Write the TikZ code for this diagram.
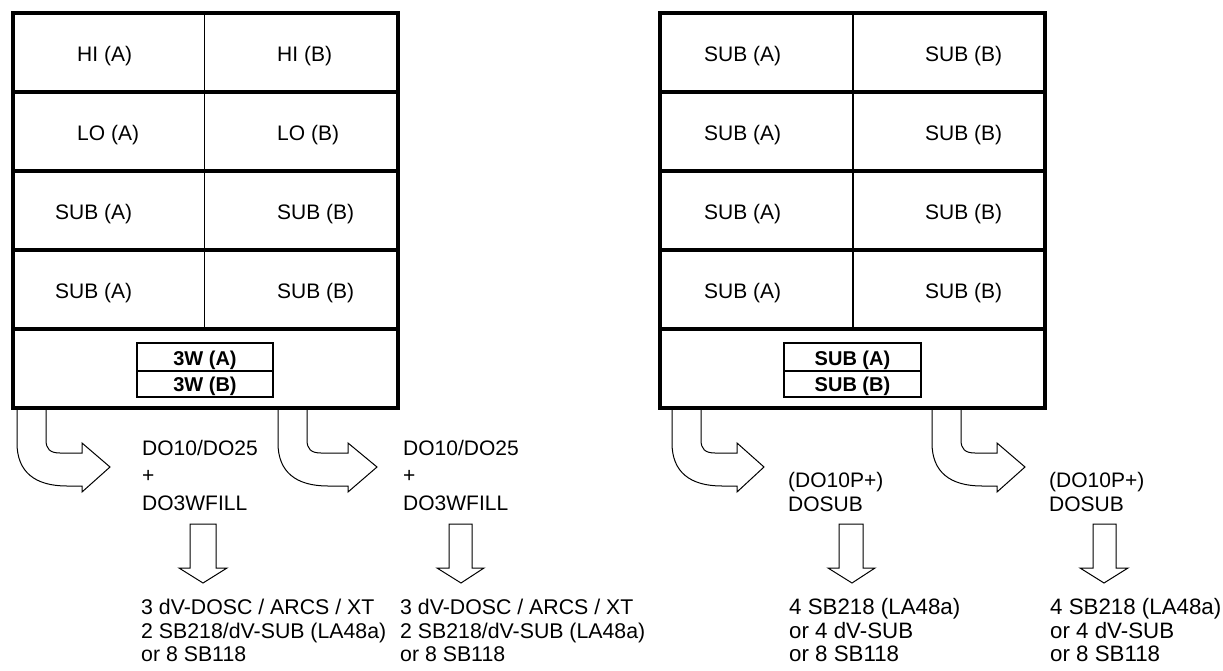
\documentclass[tikz,border=0pt]{standalone}
\usepackage{fontspec}
\setmainfont{Liberation Sans}
\tikzset{
  lbl/.style={inner sep=0pt, anchor=base west, font=\fontsize{21}{25}\selectfont},
  lblL/.style={lbl, font=\fontsize{21.3}{25}\selectfont},
  lblR/.style={lbl, font=\fontsize{22.3}{26}\selectfont},
  blbl/.style={inner sep=0pt, anchor=base, font=\bfseries\fontsize{20}{24}\selectfont},
  frameline/.style={line width=4pt},
  rowline/.style={line width=3.2pt},
  divline/.style={line width=1.2pt},
  innerbox/.style={line width=2.6pt},
  blockarrow/.style={draw=black, fill=white, line width=1pt, line join=miter},
}
\newcommand\bentarrow[3]{%
  \draw[blockarrow] (#1,406) -- (#1,443)
    .. controls (#1,472) and ({#1+18},486) .. ({#1+50},486)
    -- (#2,486) -- (#2,492) -- (#3,467) -- (#2,443) -- (#2,453) -- ({#1+43},453)
    .. controls ({#1+33},453) and ({#1+29},449) .. ({#1+29},440)
    -- ({#1+29},406);}
\newcommand\dnarrow[5]{%
  \draw[blockarrow] (#1,524) -- (#1,568) -- (#3,568) -- (#5,583) -- (#4,568) -- (#2,568) -- (#2,524) -- cycle;}
\begin{document}
\begin{tikzpicture}[x=1pt,y=-1pt]
\useasboundingbox (0,0) rectangle (1223,671);

% bent arrows
\bentarrow{17}{82}{110}
\bentarrow{278}{348}{377}
\bentarrow{672}{737}{764}
\bentarrow{932}{997}{1025}

% down arrows
\dnarrow{190}{216}{179}{227}{203}
\dnarrow{449}{472}{437}{484}{461}
\dnarrow{839}{863}{828}{875}{852}
\dnarrow{1093}{1116}{1080}{1128}{1104}

% left frame
\draw[divline] (204.7,13) -- (204.7,329);
\foreach \y in {92,171,250,329} \draw[rowline] (12.5,\y) -- (398,\y);
\draw[frameline] (12.5,12.7) rectangle (398,407.5);
\draw[innerbox] (137,343) rectangle (273,397);
\draw[innerbox] (137,371) -- (273,371);

% right frame
\draw[divline] (853,13) -- (853,329);
\foreach \y in {92,171,250,329} \draw[rowline] (660,\y) -- (1045,\y);
\draw[frameline] (660,12.7) rectangle (1045,407.5);
\draw[innerbox] (784,343) rectangle (921,397);
\draw[innerbox] (784,371) -- (921,371);

% left frame labels
\node[lbl] (hia) at (77,61.5) {HI (A)};
\node[lbl] (hib) at (277,61.5) {HI (B)};
\node[lbl] (loa) at (77,140.5) {LO (A)};
\node[lbl] (lob) at (277,140.5) {LO (B)};
\node[lbl] (suba1) at (55,219.5) {SUB (A)};
\node[lbl] (subb1) at (277,219.5) {SUB (B)};
\node[lbl] (suba2) at (55,298.5) {SUB (A)};
\node[lbl] (subb2) at (277,298.5) {SUB (B)};
\node[blbl] (twa) at (205,365) {3W (A)};
\node[blbl] (twb) at (205,391) {3W (B)};

% right frame labels
\node[lbl] (rsa1) at (704,61.5) {SUB (A)};
\node[lbl] (rsb1) at (925,61.5) {SUB (B)};
\node[lbl] (rsa2) at (704,140.5) {SUB (A)};
\node[lbl] (rsb2) at (925,140.5) {SUB (B)};
\node[lbl] (rsa3) at (704,219.5) {SUB (A)};
\node[lbl] (rsb3) at (925,219.5) {SUB (B)};
\node[lbl] (rsa4) at (704,298.5) {SUB (A)};
\node[lbl] (rsb4) at (925,298.5) {SUB (B)};
\node[blbl] (rsubA) at (852.5,365) {SUB (A)};
\node[blbl] (rsubB) at (852.5,391) {SUB (B)};

% upper texts
\node[lbl] (a1) at (142,455) {DO10/DO25};
\node[lbl] (a2) at (142,482.5) {+};
\node[lbl] (a3) at (142,510) {DO3WFILL};
\node[lbl] (b1) at (403,455) {DO10/DO25};
\node[lbl] (b2) at (403,482.5) {+};
\node[lbl] (b3) at (403,510) {DO3WFILL};
\node[lbl] (c1) at (788,487) {(DO10P+)};
\node[lbl] (c2) at (788,511) {DOSUB};
\node[lbl] (d1) at (1049,487) {(DO10P+)};
\node[lbl] (d2) at (1049,511) {DOSUB};

% bottom texts
\node[lblL] (e1) at (141,614.5) {3 dV-DOSC / ARCS / XT};
\node[lblL] (e2) at (141,638) {2 SB218/dV-SUB (LA48a)};
\node[lblL] (e3) at (141,661.5) {or 8 SB118};
\node[lblL] (f1) at (400,614.5) {3 dV-DOSC / ARCS / XT};
\node[lblL] (f2) at (400,638) {2 SB218/dV-SUB (LA48a)};
\node[lblL] (f3) at (400,661.5) {or 8 SB118};
\node[lblR] (g1) at (789,614.5) {4 SB218 (LA48a)};
\node[lblR] (g2) at (789,638) {or 4 dV-SUB};
\node[lblR] (g3) at (789,661.5) {or 8 SB118};
\node[lblR] (h1) at (1050,614.5) {4 SB218 (LA48a)};
\node[lblR] (h2) at (1050,638) {or 4 dV-SUB};
\node[lblR] (h3) at (1050,661.5) {or 8 SB118};
\end{tikzpicture}
\end{document}
